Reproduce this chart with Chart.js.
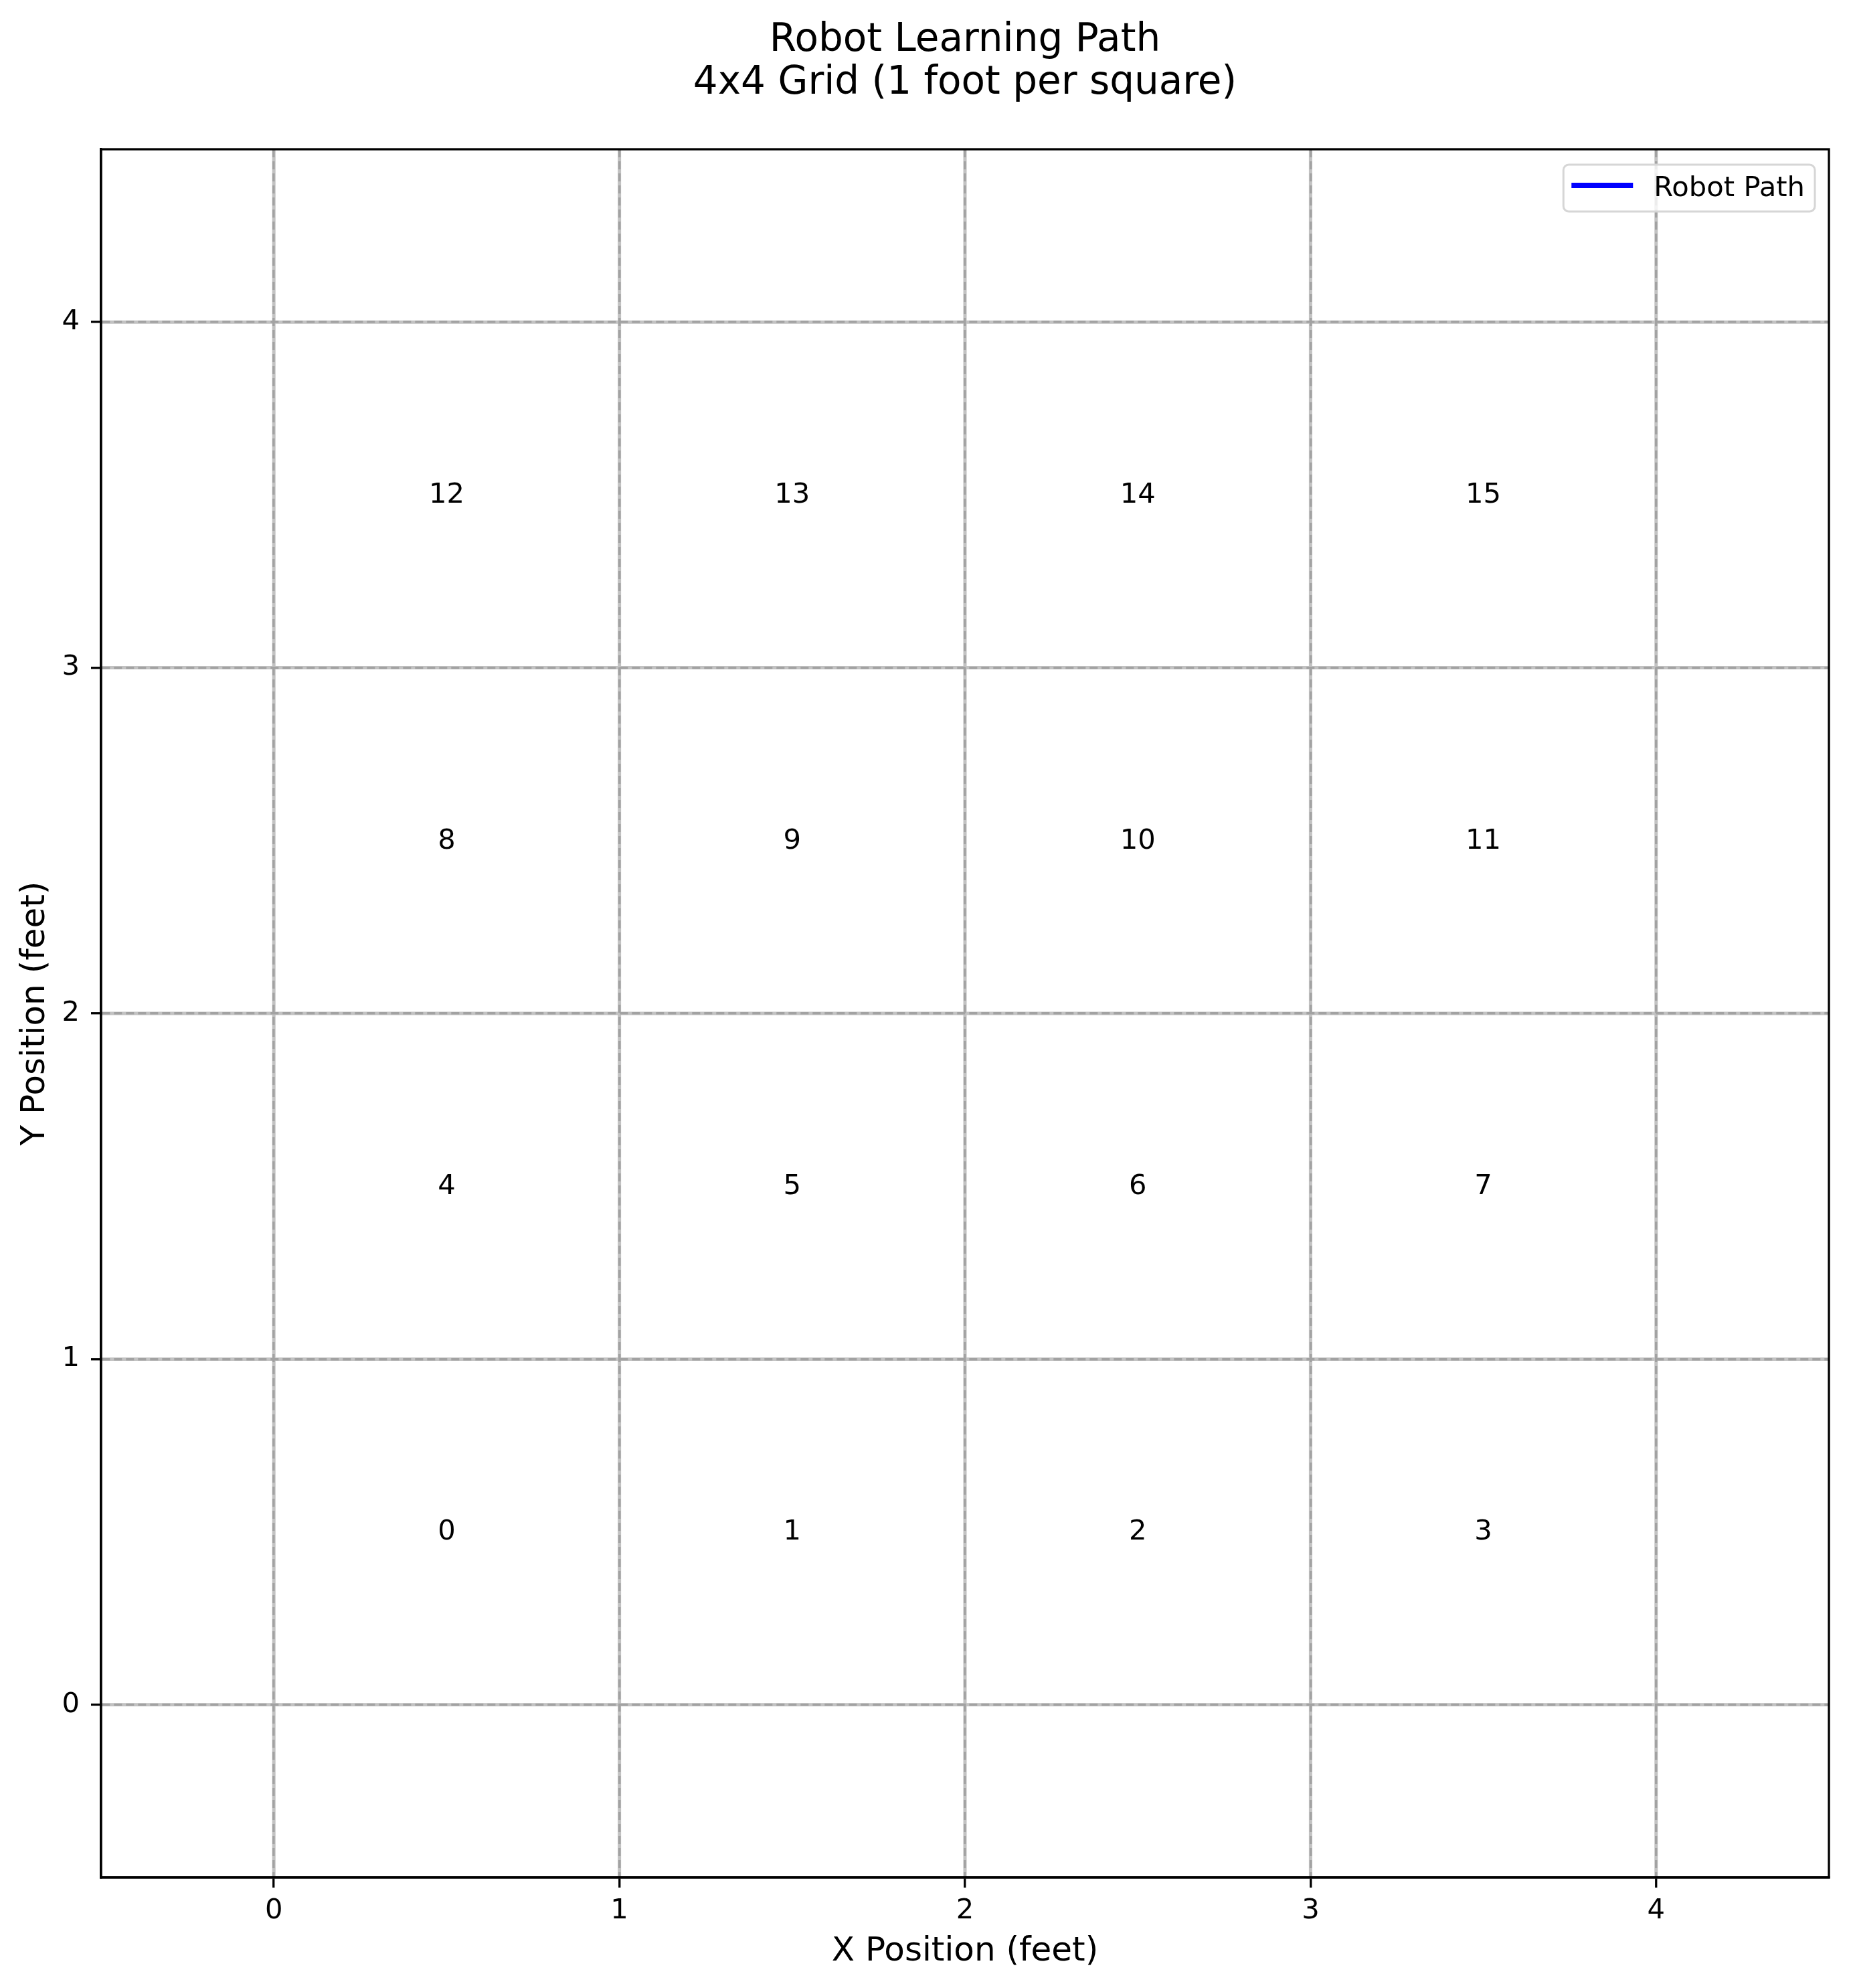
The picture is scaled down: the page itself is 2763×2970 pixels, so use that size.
<!DOCTYPE html>
<html><head><meta charset="utf-8">
<script src="https://cdn.jsdelivr.net/npm/chart.js@4/dist/chart.umd.min.js"></script>
<style>html,body{margin:0;padding:0;background:#fff}#wrap{width:2763px;height:2970px;position:relative}</style>
</head><body><div id="wrap"><canvas id="c" width="2763" height="2970"></canvas></div>
<script>
// ---- chart data ----
const chartTitle = ['Robot Learning Path', '4x4 Grid (1 foot per square)'];
const xAxisLabel = 'X Position (feet)';
const yAxisLabel = 'Y Position (feet)';
const xTickValues = [0, 1, 2, 3, 4];
const yTickValues = [0, 1, 2, 3, 4];
const cellIds = [0, 1, 2, 3, 4, 5, 6, 7, 8, 9, 10, 11, 12, 13, 14, 15];
const cellX = [0.5, 1.5, 2.5, 3.5, 0.5, 1.5, 2.5, 3.5, 0.5, 1.5, 2.5, 3.5, 0.5, 1.5, 2.5, 3.5];
const cellY = [0.5, 0.5, 0.5, 0.5, 1.5, 1.5, 1.5, 1.5, 2.5, 2.5, 2.5, 2.5, 3.5, 3.5, 3.5, 3.5];
const pathLabel = 'Robot Path';
const pathX = [];
const pathY = [];

// ---- styles ----
const FONT = "'DejaVu Sans', 'Noto Sans', sans-serif";
Chart.defaults.font.family = FONT;
Chart.defaults.color = '#000';

const gridUnderlay = {
  id: 'gridUnderlay',
  beforeDraw(chart) {
    const {ctx, chartArea: a, scales: {x, y}} = chart;
    ctx.save();
    ctx.strokeStyle = '#c2c2c2';
    ctx.lineWidth = 5;
    xTickValues.forEach(v => {
      const px = x.getPixelForValue(v);
      ctx.beginPath(); ctx.moveTo(px, a.top); ctx.lineTo(px, a.bottom); ctx.stroke();
    });
    yTickValues.forEach(v => {
      const py = y.getPixelForValue(v);
      ctx.beginPath(); ctx.moveTo(a.left, py); ctx.lineTo(a.right, py); ctx.stroke();
    });
    ctx.restore();
  }
};

const cellLabels = {
  id: 'cellLabels',
  afterDatasetsDraw(chart) {
    const {ctx, scales: {x, y}} = chart;
    ctx.save();
    ctx.font = '41.7px ' + FONT;
    ctx.fillStyle = '#000';
    ctx.textAlign = 'center';
    ctx.textBaseline = 'middle';
    cellIds.forEach((id, i) => {
      ctx.fillText(String(id), x.getPixelForValue(cellX[i]), y.getPixelForValue(cellY[i]) + 1);
    });
    ctx.restore();
  }
};

const frameAndLegend = {
  id: 'frameAndLegend',
  afterDraw(chart) {
    const {ctx, chartArea: a} = chart;
    ctx.save();
    ctx.strokeStyle = '#000';
    ctx.lineWidth = 3.3;
    ctx.strokeRect(a.left, a.top, a.right - a.left, a.bottom - a.top);
    const ds = chart.data.datasets[0];
    ctx.font = '41.7px ' + FONT;
    const tw = ctx.measureText(ds.label).width;
    const w = 135 + tw + 15, h = 70;
    const bx = a.right - 21 - w, by = a.top + 23;
    ctx.beginPath();
    ctx.roundRect(bx, by, w, h, 8);
    ctx.fillStyle = 'rgba(255,255,255,0.8)';
    ctx.fill();
    ctx.strokeStyle = '#d6d6d6';
    ctx.lineWidth = 3;
    ctx.stroke();
    ctx.strokeStyle = ds.borderColor;
    ctx.lineWidth = ds.borderWidth;
    ctx.beginPath();
    ctx.moveTo(bx + 12, by + h / 2 - 4);
    ctx.lineTo(bx + 104, by + h / 2 - 4);
    ctx.stroke();
    ctx.fillStyle = '#000';
    ctx.textAlign = 'left';
    ctx.textBaseline = 'middle';
    ctx.fillText(ds.label, bx + 135, by + h / 2 + 1);
    ctx.restore();
  }
};

function axisCommon(values, fit) {
  return {
    type: 'linear',
    min: -0.5,
    max: 4.5,
    afterBuildTicks: s => { s.ticks = values.map(v => ({value: v})); },
    afterFit: fit,
    grid: {
      color: '#a2a2a2', lineWidth: 3.5,
      drawTicks: true, tickLength: 15, tickColor: '#000', tickWidth: 3.3, tickBorderDash: []
    },
    border: {display: true, color: '#000', width: 3.3, dash: [12, 6]}
  };
}

const xCfg = axisCommon(xTickValues, s => { s.height = 165; });
xCfg.position = 'bottom';
xCfg.ticks = {font: {size: 41.7}, color: '#000', padding: 10, maxRotation: 0, autoSkip: false, callback: v => String(v)};
xCfg.title = {display: true, text: xAxisLabel, font: {size: 50}, color: '#000', padding: {top: 0, bottom: 24}};

const yCfg = axisCommon(yTickValues, s => { s.width = 151; });
yCfg.position = 'left';
yCfg.ticks = {font: {size: 41.7}, color: '#000', padding: 17, autoSkip: false, callback: v => String(v)};
yCfg.title = {display: true, text: yAxisLabel, font: {size: 50}, color: '#000', padding: {top: 23, bottom: 0}};

new Chart(document.getElementById('c'), {
  type: 'scatter',
  data: {
    datasets: [{
      label: pathLabel,
      data: pathX.map((v, i) => ({x: v, y: pathY[i]})),
      showLine: true,
      borderColor: '#0000ff',
      backgroundColor: '#0000ff',
      borderWidth: 8,
      pointRadius: 0
    }]
  },
  options: {
    responsive: false,
    animation: false,
    devicePixelRatio: 1,
    layout: {padding: {top: 0, left: 0, right: 30, bottom: 0}},
    plugins: {
      legend: {display: false},
      tooltip: {enabled: false},
      title: {
        display: true, text: chartTitle, color: '#000', fullSize: false,
        font: {size: 58, weight: 'normal', lineHeight: 1.1},
        padding: {top: 29, bottom: 66.4}
      }
    },
    scales: {x: xCfg, y: yCfg}
  },
  plugins: [gridUnderlay, cellLabels, frameAndLegend]
});
</script>
</body></html>
